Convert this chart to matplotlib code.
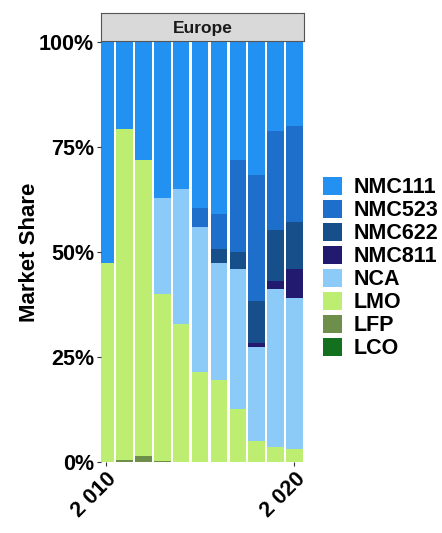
import numpy as np
import matplotlib
matplotlib.use("Agg")
import matplotlib.pyplot as plt
from matplotlib.patches import Patch

plt.rcParams['font.family'] = ['Liberation Sans', 'DejaVu Sans']
plt.rcParams['font.weight'] = 'bold'

# Data: market share (%) in Europe, by cathode chemistry
years = [2010, 2011, 2012, 2013, 2014, 2015, 2016, 2017, 2018, 2019, 2020]
chemistries = ['NMC111', 'NMC523', 'NMC622', 'NMC811', 'NCA', 'LMO', 'LFP', 'LCO']
nmc111 = [52.6, 20.6, 28.1, 37.2, 35.1, 39.6, 41.0, 28.1, 31.7, 21.1, 20.0]
nmc523 = [0.0, 0.0, 0.0, 0.0, 0.0, 4.5, 8.3, 21.8, 29.9, 23.6, 22.8]
nmc622 = [0.0, 0.0, 0.0, 0.0, 0.0, 0.0, 3.4, 4.2, 10.1, 12.1, 11.3]
nmc811 = [0.0, 0.0, 0.0, 0.0, 0.0, 0.0, 0.0, 0.0, 0.8, 2.0, 6.8]
nca = [0.0, 0.0, 0.0, 22.8, 32.1, 34.4, 27.8, 33.3, 22.4, 37.6, 35.9]
lmo = [47.4, 79.0, 70.4, 39.7, 32.8, 21.5, 19.5, 12.6, 5.1, 3.5, 3.2]
lfp = [0.0, 0.4, 1.5, 0.3, 0.0, 0.0, 0.0, 0.0, 0.0, 0.0, 0.0]
lco = [0.0, 0.0, 0.0, 0.0, 0.0, 0.0, 0.0, 0.0, 0.0, 0.0, 0.0]

colors = ['#2391f2', '#1e6fcb', '#174f8b', '#221a6e', '#8ccbf7', '#bdee72', '#6e8f4c', '#12701f']

# stack order from bottom: LCO, LFP, LMO, NCA, NMC811, NMC622, NMC523, NMC111
series = [nmc111, nmc523, nmc622, nmc811, nca, lmo, lfp, lco]

fig = plt.figure(figsize=(4.42, 5.33), dpi=100)
ax = fig.add_axes([0.2285, 0.1332, 0.459, 0.788])

bottom = np.zeros(len(years))
for vals, col in zip(series[::-1], colors[::-1]):
    v = np.array(vals) / 100
    ax.bar(years, v, width=0.87, bottom=bottom, color=col, edgecolor='none', linewidth=0)
    bottom += v

ax.set_xlim(2009.75, 2020.5)
ax.set_ylim(0, 1)
ax.set_yticks([0, 0.25, 0.5, 0.75, 1.0])
ax.set_yticklabels(['0%', '25%', '50%', '75%', '100%'], fontsize=15.5, fontweight='bold')
ax.set_xticks([2010, 2020])
ax.set_xticklabels(['2 010', '2 020'], rotation=45, ha='right', rotation_mode='anchor',
                   fontsize=15.5, fontweight='bold')
ax.tick_params(axis='both', length=3, width=0.8, color='#333333', pad=2)
for s in ax.spines.values():
    s.set_visible(False)
ax.set_ylabel('Market Share', fontsize=16, fontweight='bold')
ax.yaxis.set_label_coords(-0.30, 0.5)

# facet strip
strip = fig.add_axes([0.2285, 0.9231, 0.459, 0.0525])
strip.set_facecolor('#d9d9d9')
strip.set_xticks([])
strip.set_yticks([])
for s in strip.spines.values():
    s.set_color('#555555')
    s.set_linewidth(0.8)
strip.text(0.5, 0.45, 'Europe', ha='center', va='center', fontsize=12.5, fontweight='bold',
           color='#1a1a1a', transform=strip.transAxes)

handles = [Patch(facecolor=c, edgecolor='none', label=n) for c, n in zip(colors, chemistries)]
fig.legend(handles=handles, loc='center left', bbox_to_anchor=(0.686, 0.497),
           frameon=False, prop={'size': 15.5, 'weight': 'bold'},
           handlelength=0.92, handleheight=0.92, handletextpad=0.5, labelspacing=0.07)

fig.savefig('out.png', dpi=100)
